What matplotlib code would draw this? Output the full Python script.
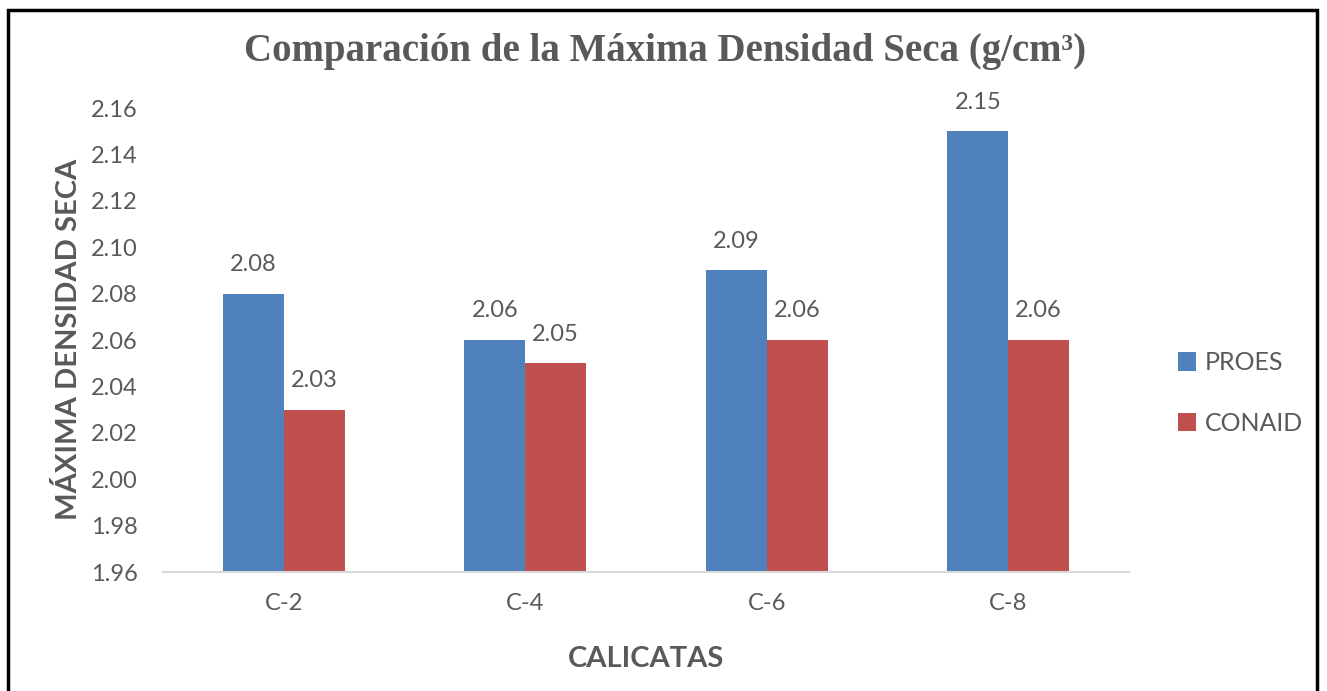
import matplotlib.pyplot as plt
import numpy as np
from matplotlib.patches import Rectangle

categories = ['C-2', 'C-4', 'C-6', 'C-8']
proes = [2.08, 2.06, 2.09, 2.15]
conaid = [2.03, 2.05, 2.06, 2.06]
yticks = [1.96, 1.98, 2.00, 2.02, 2.04, 2.06, 2.08, 2.10, 2.12, 2.14, 2.16]

gray = '#595959'
blue = '#4f81bd'
red = '#c0504d'
sans = ['Lato', 'DejaVu Sans']

fig = plt.figure(figsize=(13.27, 6.91), dpi=100)
ax = fig.add_axes([0.1228, 0.1722, 0.728, 0.6715])

x = np.arange(len(categories))
w = 0.252
base = 1.96
b1 = ax.bar(x - w/2, np.array(proes) - base, w, bottom=base, color=blue, label='PROES')
b2 = ax.bar(x + w/2, np.array(conaid) - base, w, bottom=base, color=red, label='CONAID')

for bars, vals in ((b1, proes), (b2, conaid)):
    for r, v in zip(bars, vals):
        ax.text(r.get_x() + r.get_width()/2, v + 0.008, f'{v:.2f}', ha='center', va='bottom',
                fontsize=17, color=gray, family=sans)

ax.set_xlim(-0.5, len(categories) - 0.5)
ax.set_ylim(1.96, 2.16)
ax.set_yticks(yticks)
ax.set_yticklabels([f'{t:.2f}' for t in yticks], family=sans, fontsize=17, color=gray)
ax.set_xticks(x)
ax.set_xticklabels(categories, family=sans, fontsize=17, color=gray)
ax.tick_params(axis='y', length=0, pad=18)
ax.tick_params(axis='x', length=0, pad=15)
for s in ['top', 'right', 'left']:
    ax.spines[s].set_visible(False)
ax.spines['bottom'].set_color('#d9d9d9')
ax.spines['bottom'].set_linewidth(1.5)

ax.set_ylabel('MÁXIMA DENSIDAD SECA', family=sans, fontsize=21, fontweight='bold', color=gray)
ax.yaxis.set_label_coords(-0.084, 0.502)
ax.set_xlabel('CALICATAS', family=sans, fontsize=21, fontweight='bold', color=gray, labelpad=23)

fig.text(0.501, 0.925, 'Comparación de la Máxima Densidad Seca (g/cm³)', ha='center', va='center',
         family=['Liberation Serif', 'DejaVu Serif'], fontsize=28, fontweight='bold', color=gray)

leg = ax.legend(loc='center left', bbox_to_anchor=(1.027, 0.386), frameon=False,
                handlelength=0.75, handleheight=0.75, handletextpad=0.35, labelspacing=1.5,
                prop={'family': sans, 'size': 18})
for t in leg.get_texts():
    t.set_color(gray)

fig.patches.append(Rectangle((8/1327, -0.05), 1317/1327 - 8/1327, 1.05 - 10/691,
                             transform=fig.transFigure, fill=False, edgecolor='black', linewidth=2.5))

fig.savefig('out.png', dpi=100)
